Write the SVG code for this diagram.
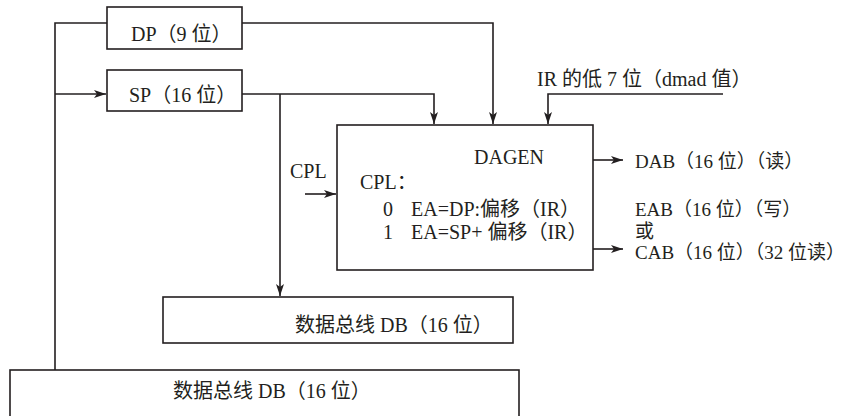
<svg xmlns="http://www.w3.org/2000/svg" width="851" height="416" viewBox="0 0 851 416">
<style>
.box{fill:#fff;stroke:#231f20;stroke-width:1.6}
.ln{fill:none;stroke:#231f20;stroke-width:1.6}
text{font-family:'Liberation Serif','Times New Roman','DejaVu Serif','Noto Sans CJK SC',serif;font-size:20px;fill:#231f20}
.out{font-size:19px}
</style>
<defs>
<marker id="ah" viewBox="0 0 12 8" refX="12" refY="4" markerWidth="12" markerHeight="8" markerUnits="userSpaceOnUse" orient="auto">
<path d="M0,0 L12,4 L0,8 L3,4 z" fill="#231f20"/>
</marker>
</defs>
<rect width="851" height="416" fill="#fff"/>
<g id="connectors">
<path class="ln" d="M107,23 H55 V370"/>
<path class="ln" d="M55,94 H106" marker-end="url(#ah)"/>
<path class="ln" d="M242,23 H493 V124" marker-end="url(#ah)"/>
<path class="ln" d="M242,94 H434 V124" marker-end="url(#ah)"/>
<path class="ln" d="M280,94 V296" marker-end="url(#ah)"/>
<path class="ln" d="M723,94 H548 V124" marker-end="url(#ah)"/>
<path class="ln" d="M305,194 H336" marker-end="url(#ah)"/>
<path class="ln" d="M593,160 H623" marker-end="url(#ah)"/>
<path class="ln" d="M593,249 H623" marker-end="url(#ah)"/>
</g>
<g id="dp">
<rect class="box" x="107" y="7" width="135" height="42"/>
<text x="131" y="41">DP（9 位）</text>
</g>
<g id="sp">
<rect class="box" x="107" y="70" width="135" height="41"/>
<text x="129" y="102">SP（16 位）</text>
</g>
<g id="ir-label">
<text x="537" y="86">IR 的低 7 位（dmad 值）</text>
</g>
<g id="cpl-label">
<text x="290" y="178">CPL</text>
</g>
<g id="dagen">
<rect class="box" x="337" y="125" width="256" height="145"/>
<text x="474" y="164">DAGEN</text>
<text x="360" y="189">CPL：</text>
<text x="383" y="216">0</text>
<text x="411" y="216">EA=DP:偏移（IR）</text>
<text x="383" y="239">1</text>
<text x="411" y="239">EA=SP+ 偏移（IR）</text>
</g>
<g id="outputs">
<text class="out" x="635" y="168">DAB（16 位）（读）</text>
<text class="out" x="635" y="216">EAB（16 位）（写）</text>
<text class="out" x="635" y="238">或</text>
<text class="out" x="635" y="259">CAB（16 位）（32 位读）</text>
</g>
<g id="db-mid">
<rect class="box" x="163" y="297" width="350" height="46"/>
<text x="295" y="332">数据总线 DB（16 位）</text>
</g>
<g id="db-bottom">
<rect class="box" x="10" y="370" width="509" height="60"/>
<text x="173" y="398">数据总线 DB（16 位）</text>
</g>
</svg>
